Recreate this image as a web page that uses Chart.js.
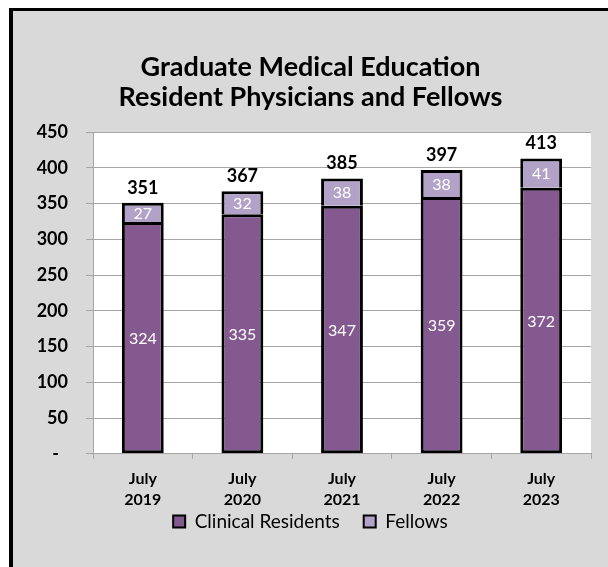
<!DOCTYPE html>
<html>
<head>
<meta charset="utf-8">
<title>Graduate Medical Education</title>
<script src="https://cdn.jsdelivr.net/npm/chart.js"></script>
<style>
    html, body { margin: 0; padding: 0; background: #fff; overflow: hidden; }
    #frame {
        position: absolute; left: 9px; top: 8px; width: 700px; height: 700px;
        background: #d9d9d9; border-left: 4px solid #000; border-top: 3px solid #000;
    }
    #gme { position: absolute; left: 0; top: 0; }
</style>
</head>
<body>
<div id="frame"></div>
<canvas id="gme" width="608" height="567"></canvas>
<script>
// ---- Data ----
const categories = [["July", "2019"], ["July", "2020"], ["July", "2021"], ["July", "2022"], ["July", "2023"]];
const residents  = [324, 335, 347, 359, 372];
const fellows    = [27, 32, 38, 38, 41];
const titleLines = ["Graduate Medical Education", "Resident Physicians and Fellows"];

(function () {
    "use strict";

    const COLORS = {
        residents: "#83598f",
        fellows:   "#b3a2c7",
        grid:      "#a6a6a6",
        text:      "#000000",
        plot:      "#ffffff",
    };
    const FONT = "Lato";

    // white plot area behind the bars
    const plotBackground = {
        id: "plotBackground",
        beforeDraw(chart) {
            const a = chart.chartArea, ctx = chart.ctx;
            ctx.save();
            ctx.fillStyle = COLORS.plot;
            ctx.fillRect(a.left, a.top, a.right - a.left, a.bottom - a.top);
            ctx.restore();
        },
    };

    // pull the legend up closer to the two-line category labels
    const legendLift = {
        id: "legendLift",
        afterLayout(chart) {
            chart.legend.top -= 32;
            chart.legend.bottom -= 32;
        },
    };

    // segment values inside the bars, totals above
    const barLabels = {
        id: "barLabels",
        afterDatasetsDraw(chart) {
            const ctx = chart.ctx;
            ctx.save();
            ctx.textAlign = "center";
            ctx.textBaseline = "middle";
            ctx.font = "16px " + FONT;
            ctx.fillStyle = "#ffffff";
            chart.data.datasets.forEach((ds, di) => {
                chart.getDatasetMeta(di).data.forEach((bar, i) => {
                    ctx.fillText(String(ds.data[i]), bar.x, (bar.y + bar.base) / 2 + 1);
                });
            });
            const top = chart.getDatasetMeta(chart.data.datasets.length - 1).data;
            ctx.font = "bold 18px " + FONT;
            ctx.fillStyle = COLORS.text;
            top.forEach((bar, i) => {
                ctx.fillText(String(residents[i] + fellows[i]), bar.x, bar.y - 15);
            });
            ctx.restore();
        },
    };

    function draw() {
        new Chart(document.getElementById("gme"), {
            type: "bar",
            data: {
                labels: categories,
                datasets: [
                    {
                        label: "Clinical Residents",
                        data: residents,
                        backgroundColor: COLORS.residents,
                        borderColor: "#000",
                        borderWidth: 3,
                        borderSkipped: false,
                    },
                    {
                        label: "Fellows",
                        data: fellows,
                        backgroundColor: COLORS.fellows,
                        borderColor: "#000",
                        borderWidth: 3,
                        borderSkipped: "bottom",
                    },
                ],
            },
            options: {
                responsive: false,
                animation: false,
                events: [],
                categoryPercentage: 1,
                barPercentage: 0.42,
                layout: { padding: { left: 13, right: 0, top: 0, bottom: 0 } },
                plugins: {
                    tooltip: { enabled: false },
                    title: {
                        display: true,
                        text: titleLines,
                        color: COLORS.text,
                        font: { family: FONT, size: 27, weight: "bold", lineHeight: 30 / 27 },
                        padding: { top: 52, bottom: 20 },
                    },
                    legend: {
                        position: "bottom",
                        maxHeight: 47,
                        labels: {
                            color: COLORS.text,
                            font: { family: FONT, size: 19 },
                            boxWidth: 12,
                            boxHeight: 12,
                            padding: 24,
                            generateLabels(chart) {
                                return chart.data.datasets.map((ds, i) => ({
                                    text: ds.label,
                                    fillStyle: ds.backgroundColor,
                                    strokeStyle: "#000",
                                    lineWidth: 2,
                                    datasetIndex: i,
                                }));
                            },
                        },
                    },
                },
                scales: {
                    x: {
                        stacked: true,
                        grid: {
                            offset: true,
                            drawOnChartArea: false,
                            tickLength: 5,
                            color: COLORS.grid,
                        },
                        border: { color: COLORS.grid },
                        ticks: {
                            color: COLORS.text,
                            padding: 9,
                            maxRotation: 0,
                            font: { family: FONT, size: 16, weight: "bold", lineHeight: 1.35 },
                        },
                    },
                    y: {
                        stacked: true,
                        min: 0,
                        max: 450,
                        grid: { color: COLORS.grid, tickLength: 7 },
                        border: { color: COLORS.grid },
                        ticks: {
                            stepSize: 50,
                            color: COLORS.text,
                            padding: 18,
                            font: { family: FONT, size: 18, weight: "bold" },
                            callback: (v) => (v === 0 ? "-\u2002" : v),
                        },
                        afterFit(scale) { scale.width = 80; },
                    },
                    // empty right gutter so the title and legend centre on the frame
                    gutter: {
                        position: "right",
                        display: true,
                        grid: { display: false },
                        border: { display: false },
                        ticks: { display: false },
                        afterFit(scale) { scale.width = 17; },
                    },
                },
            },
            plugins: [plotBackground, legendLift, barLabels],
        });
    }

    const fonts = ["bold 27px " + FONT, "bold 18px " + FONT, "16px " + FONT, "19px " + FONT];
    Promise.all(fonts.map((f) => document.fonts.load(f))).then(draw, draw);
})();
</script>
</body>
</html>
